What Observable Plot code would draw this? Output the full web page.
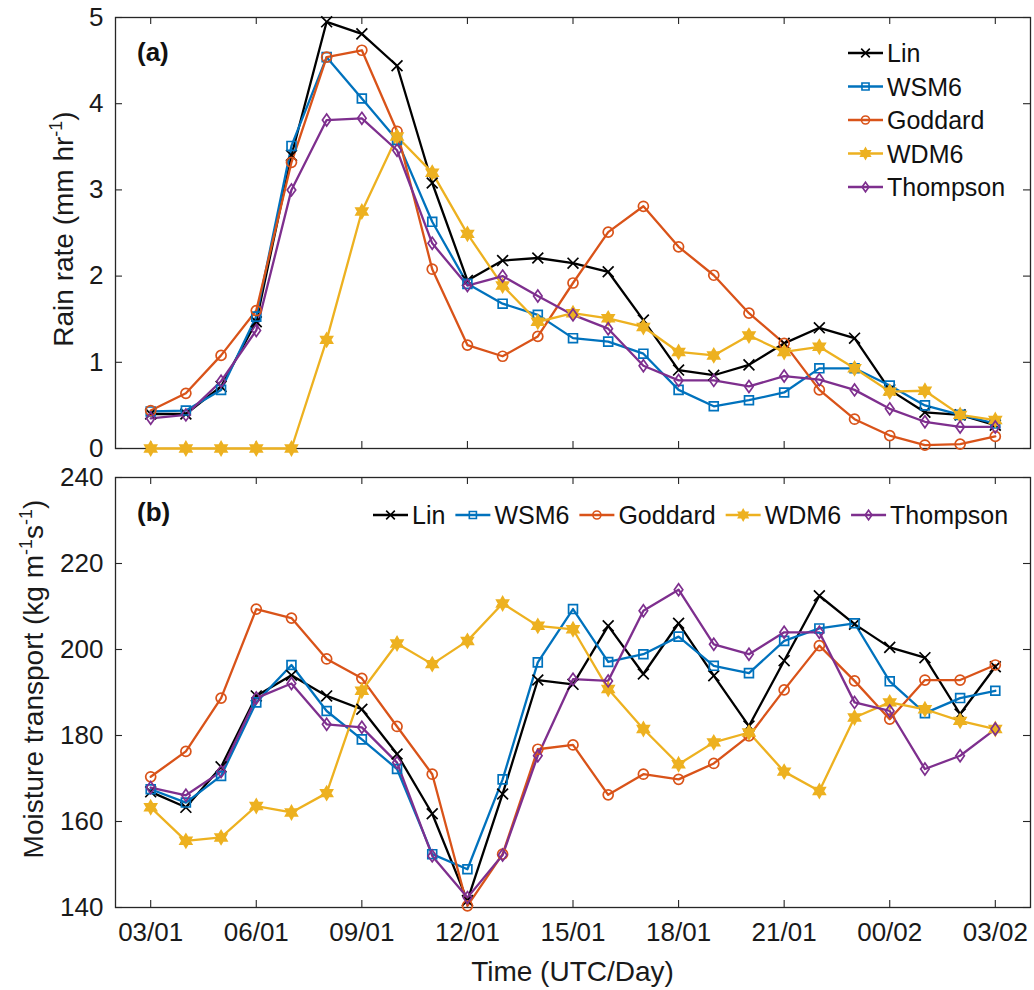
<!DOCTYPE html>
<html><head><meta charset="utf-8">
<script src="https://cdn.jsdelivr.net/npm/d3@7"></script>
<script src="https://cdn.jsdelivr.net/npm/@observablehq/plot@0.6"></script>
<style>
body{margin:0;background:#fff;}
#chart{position:relative;width:1034px;height:990px;font-family:"Liberation Sans",Arial,sans-serif;}
#chart svg{display:block;}
#overlay{position:absolute;left:0;top:0;pointer-events:none;}
</style></head><body><div id="chart"></div>
<script>
// ---------- data ----------
const hours = d3.range(25); // hours after 03 UTC day 01
const tickHours = [0, 3, 6, 9, 12, 15, 18, 21, 24];
const tickLabels = ["03/01", "06/01", "09/01", "12/01", "15/01", "18/01", "21/01", "00/02", "03/02"];
const models = ["Lin", "WSM6", "Goddard", "WDM6", "Thompson"];
const colors = ["#000000", "#0072BD", "#D95319", "#EDB120", "#7E2F8E"];

const rainLin      = [0.40, 0.40, 0.72, 1.47, 3.40, 4.95, 4.81, 4.44, 3.08, 1.95, 2.18, 2.21, 2.15, 2.05, 1.49, 0.91, 0.85, 0.97, 1.22, 1.40, 1.28, 0.68, 0.42, 0.39, 0.27];
const rainWSM6     = [0.43, 0.44, 0.68, 1.53, 3.51, 4.54, 4.06, 3.58, 2.63, 1.91, 1.68, 1.55, 1.28, 1.24, 1.10, 0.68, 0.49, 0.56, 0.65, 0.93, 0.93, 0.73, 0.50, 0.39, 0.29];
const rainGoddard  = [0.44, 0.64, 1.08, 1.60, 3.32, 4.54, 4.62, 3.68, 2.08, 1.20, 1.07, 1.30, 1.92, 2.51, 2.81, 2.34, 2.01, 1.57, 1.22, 0.68, 0.34, 0.15, 0.04, 0.05, 0.14];
const rainWDM6     = [0.00, 0.00, 0.00, 0.00, 0.00, 1.26, 2.75, 3.62, 3.20, 2.49, 1.89, 1.47, 1.57, 1.51, 1.41, 1.12, 1.08, 1.31, 1.12, 1.18, 0.93, 0.66, 0.67, 0.39, 0.33];
const rainThompson = [0.35, 0.39, 0.78, 1.37, 3.00, 3.81, 3.83, 3.46, 2.38, 1.89, 2.00, 1.77, 1.55, 1.39, 0.96, 0.79, 0.79, 0.72, 0.84, 0.80, 0.68, 0.46, 0.31, 0.25, 0.25];

const mtLin      = [166.9, 163.3, 172.7, 189.2, 194.0, 189.2, 186.1, 175.7, 161.8, 141.6, 166.4, 192.9, 191.9, 205.5, 194.3, 206.1, 193.9, 182.2, 197.4, 212.5, 205.9, 200.5, 198.1, 185.0, 196.0];
const mtWSM6     = [167.5, 164.4, 170.6, 187.7, 196.4, 185.7, 179.1, 172.2, 152.4, 148.9, 169.8, 197.0, 209.4, 197.1, 198.9, 203.0, 196.2, 194.5, 202.0, 204.9, 206.1, 192.6, 185.2, 188.7, 190.4];
const mtGoddard  = [170.4, 176.3, 188.7, 209.4, 207.3, 197.8, 193.3, 182.1, 171.0, 140.4, 152.4, 176.8, 177.8, 166.2, 171.0, 169.8, 173.5, 179.9, 190.6, 200.9, 192.7, 183.8, 192.9, 192.9, 196.4];
const mtWDM6     = [163.3, 155.5, 156.3, 163.6, 162.1, 166.6, 190.4, 201.4, 196.6, 202.0, 210.7, 205.5, 204.7, 190.8, 181.5, 173.3, 178.4, 180.7, 171.6, 167.1, 184.2, 187.7, 186.1, 183.4, 181.5];
const mtThompson = [167.9, 166.1, 171.6, 188.7, 192.1, 182.6, 181.9, 173.7, 152.0, 142.3, 152.2, 175.3, 193.1, 192.7, 209.0, 213.9, 201.2, 198.9, 204.0, 204.0, 187.7, 185.7, 172.2, 175.3, 181.5];

const rainTicks = [0, 1, 2, 3, 4, 5];
const mtTicks = [140, 160, 180, 200, 220, 240];

// ---------- symbols ----------
const hexagram = {draw(ctx, size) {
  const R = Math.sqrt(size / Math.PI) * 1.35, r = R / Math.sqrt(3);
  for (let i = 0; i < 12; i++) {
    const a = -Math.PI / 2 + i * Math.PI / 6, rr = i % 2 ? r : R;
    const x = rr * Math.cos(a), y = rr * Math.sin(a);
    i ? ctx.lineTo(x, y) : ctx.moveTo(x, y);
  }
  ctx.closePath();
}};
const rhombus = {draw(ctx, size) {
  const r = Math.sqrt(size / Math.PI), h = r * 1.2, w = r * 0.85;
  ctx.moveTo(0, -h); ctx.lineTo(w, 0); ctx.lineTo(0, h); ctx.lineTo(-w, 0); ctx.closePath();
}};
const symbols = [d3.symbolTimes, d3.symbolSquare, d3.symbolCircle, hexagram, rhombus];
const filled = [false, false, false, true, false];
const R = 5;

const W = 1034, ML = 115, MR = 4;
const innerW = W - ML - MR;
const tickLen = 7;
const axisColor = "#262626";

function panel(series, yDomain, yTicks, height, marginTop, marginBottom, showX) {
  const innerH = height - marginTop - marginBottom;
  const marks = [
    Plot.frame({stroke: axisColor, strokeWidth: 1.3}),
    Plot.tickX(tickHours, {x: d => d, insetTop: innerH - tickLen, stroke: axisColor, strokeWidth: 1.1}),
    Plot.tickX(tickHours, {x: d => d, insetBottom: innerH - tickLen, stroke: axisColor, strokeWidth: 1.1}),
    Plot.tickY(yTicks, {y: d => d, insetRight: innerW - tickLen, stroke: axisColor, strokeWidth: 1.1}),
    Plot.tickY(yTicks, {y: d => d, insetLeft: innerW - tickLen, stroke: axisColor, strokeWidth: 1.1}),
    Plot.axisY(yTicks, {tickSize: 0, tickPadding: 12, fontSize: 26, label: null, fill: "#1a1a1a", tickFormat: d => String(d)})
  ];
  if (showX) marks.push(Plot.axisX(tickHours, {tickSize: 0, tickPadding: 15, fontSize: 26, label: null, fill: "#1a1a1a",
    tickFormat: d => tickLabels[tickHours.indexOf(d)]}));
  models.forEach((m, i) => {
    const data = series[i].map((v, h) => ({h: hours[h], v}));
    marks.push(Plot.line(data, {x: "h", y: "v", stroke: colors[i], strokeWidth: 2.3}));
  });
  models.forEach((m, i) => {
    const data = series[i].map((v, h) => ({h: hours[h], v}));
    marks.push(Plot.dot(data, {x: "h", y: "v", r: R, symbol: symbols[i], stroke: colors[i],
      fill: filled[i] ? colors[i] : "none", strokeWidth: 1.7}));
  });
  return Plot.plot({
    width: W, height, marginLeft: ML, marginRight: MR, marginTop, marginBottom,
    style: {fontFamily: '"Liberation Sans", Arial, sans-serif', background: "#fff", overflow: "visible"},
    x: {type: "linear", domain: [-1, 25], axis: null},
    y: {domain: yDomain, axis: null},
    marks
  });
}

const chart = document.getElementById("chart");
chart.appendChild(panel([rainLin, rainWSM6, rainGoddard, rainWDM6, rainThompson], [0, 5], rainTicks, 462, 17, 14, false));
chart.appendChild(panel([mtLin, mtWSM6, mtGoddard, mtWDM6, mtThompson], [140, 240], mtTicks, 528, 15, 83, true));

// ---------- overlay: labels and legends ----------
const ov = d3.select(chart).append("svg").attr("id", "overlay").attr("width", W).attr("height", 990)
  .style("font-family", '"Liberation Sans", Arial, sans-serif');

ov.append("text").attr("x", 137).attr("y", 61).attr("font-size", 26).attr("font-weight", "bold").attr("fill", "#111").text("(a)");
ov.append("text").attr("x", 137).attr("y", 521).attr("font-size", 26).attr("font-weight", "bold").attr("fill", "#111").text("(b)");

function yLabel(cx, cy, parts) {
  const t = ov.append("text").attr("transform", `translate(${cx},${cy}) rotate(-90)`)
    .attr("text-anchor", "middle").attr("font-size", 28).attr("fill", "#1a1a1a");
  let sup = false;
  parts.forEach(([s, isSup]) => {
    const ts = t.append("tspan").text(s);
    if (isSup && !sup) ts.attr("dy", -11).attr("font-size", 18);
    else if (!isSup && sup) ts.attr("dy", 11).attr("font-size", 28);
    else if (isSup) ts.attr("font-size", 18);
    sup = isSup;
  });
}
yLabel(73, 229, [["Rain rate (mm hr", false], ["-1", true], [")", false]]);
yLabel(43, 679, [["Moisture transport (kg m", false], ["-1", true], ["s", false], ["-1", true], [")", false]]);

ov.append("text").attr("x", (ML + W - MR) / 2).attr("y", 981).attr("text-anchor", "middle")
  .attr("font-size", 28).attr("fill", "#1a1a1a").text("Time (UTC/Day)");

function legendEntry(g, i, x, y) {
  g.append("line").attr("x1", x).attr("x2", x + 35).attr("y1", y).attr("y2", y)
    .attr("stroke", colors[i]).attr("stroke-width", 2.3);
  g.append("path").attr("transform", `translate(${x + 17.5},${y})`)
    .attr("d", d3.symbol(symbols[i], Math.PI * 16)())
    .attr("stroke", colors[i]).attr("stroke-width", 1.6).attr("fill", filled[i] ? colors[i] : "none");
  const t = g.append("text").attr("x", x + 39).attr("y", y).attr("dy", "0.36em")
    .attr("font-size", 25).attr("fill", "#111").text(models[i]);
  return x + 39 + t.node().getComputedTextLength();
}
const lg1 = ov.append("g");
models.forEach((m, i) => legendEntry(lg1, i, 848, 53 + 33.5 * i));
const lg2 = ov.append("g");
let lx = 373;
models.forEach((m, i) => { lx = legendEntry(lg2, i, lx, 515) + 10; });
</script></body></html>
